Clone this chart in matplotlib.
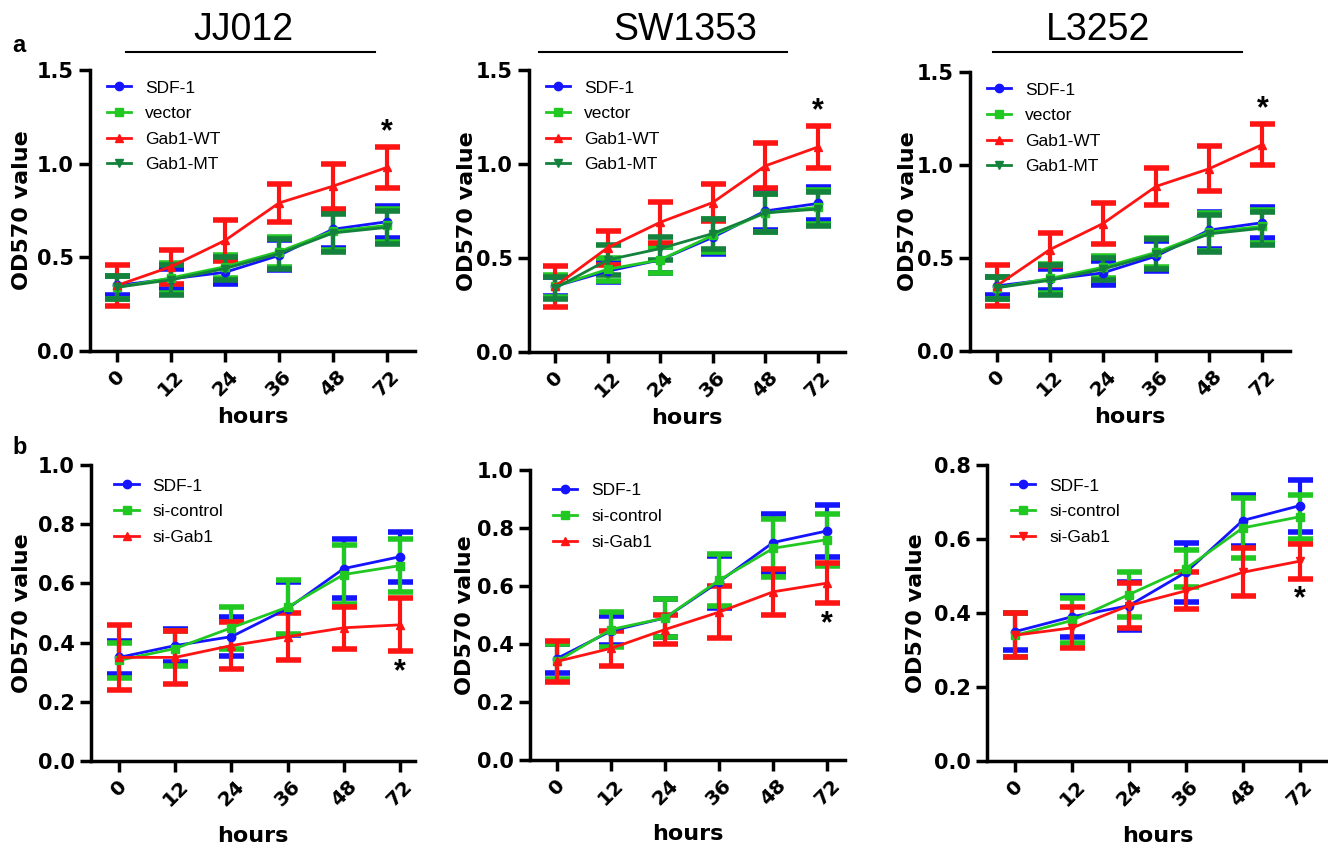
import matplotlib
matplotlib.use("Agg")
import matplotlib.pyplot as plt
from matplotlib.lines import Line2D

plt.rcParams['font.family'] = ['Liberation Sans', 'DejaVu Sans']

hours = ["0", "12", "24", "36", "48", "72"]

# ---- Row a ----
a_labels = ["SDF-1", "vector", "Gab1-WT", "Gab1-MT"]

jj_sdf = [0.35, 0.385, 0.42, 0.51, 0.65, 0.69]
jj_sdf_err = [0.05, 0.055, 0.065, 0.08, 0.10, 0.085]
jj_vec = [0.34, 0.39, 0.45, 0.53, 0.64, 0.67]
jj_vec_err = [0.06, 0.08, 0.06, 0.08, 0.10, 0.09]
jj_wt = [0.35, 0.45, 0.59, 0.79, 0.88, 0.98]
jj_wt_err = [0.11, 0.09, 0.11, 0.10, 0.12, 0.11]
jj_mt = [0.34, 0.38, 0.44, 0.52, 0.63, 0.66]
jj_mt_err = [0.06, 0.08, 0.06, 0.08, 0.10, 0.09]

sw_sdf = [0.35, 0.43, 0.49, 0.61, 0.75, 0.79]
sw_sdf_err = [0.05, 0.06, 0.07, 0.09, 0.10, 0.09]
sw_vec = [0.35, 0.44, 0.49, 0.62, 0.74, 0.77]
sw_vec_err = [0.06, 0.06, 0.07, 0.09, 0.10, 0.09]
sw_wt = [0.35, 0.555, 0.69, 0.795, 0.99, 1.09]
sw_wt_err = [0.11, 0.09, 0.11, 0.10, 0.12, 0.11]
sw_mt = [0.34, 0.49, 0.55, 0.63, 0.74, 0.76]
sw_mt_err = [0.06, 0.08, 0.06, 0.08, 0.10, 0.09]

l3_sdf = [0.35, 0.385, 0.42, 0.51, 0.65, 0.69]
l3_sdf_err = [0.05, 0.055, 0.065, 0.08, 0.10, 0.085]
l3_vec = [0.34, 0.39, 0.45, 0.53, 0.64, 0.67]
l3_vec_err = [0.06, 0.08, 0.06, 0.08, 0.10, 0.09]
l3_wt = [0.35, 0.545, 0.685, 0.885, 0.98, 1.11]
l3_wt_err = [0.11, 0.09, 0.11, 0.10, 0.12, 0.11]
l3_mt = [0.34, 0.38, 0.44, 0.52, 0.63, 0.66]
l3_mt_err = [0.06, 0.08, 0.06, 0.08, 0.10, 0.09]

# ---- Row b ----
b_labels = ["SDF-1", "si-control", "si-Gab1"]

jjb_sdf = [0.35, 0.39, 0.42, 0.515, 0.65, 0.69]
jjb_sdf_err = [0.055, 0.055, 0.065, 0.09, 0.10, 0.085]
jjb_ctl = [0.34, 0.38, 0.45, 0.52, 0.63, 0.66]
jjb_ctl_err = [0.06, 0.06, 0.07, 0.09, 0.10, 0.09]
jjb_si = [0.35, 0.35, 0.39, 0.42, 0.45, 0.46]
jjb_si_err = [0.11, 0.09, 0.08, 0.08, 0.07, 0.09]

swb_sdf = [0.35, 0.445, 0.49, 0.615, 0.75, 0.79]
swb_sdf_err = [0.05, 0.05, 0.065, 0.09, 0.10, 0.09]
swb_ctl = [0.34, 0.45, 0.49, 0.62, 0.73, 0.76]
swb_ctl_err = [0.06, 0.06, 0.065, 0.09, 0.10, 0.09]
swb_si = [0.34, 0.385, 0.45, 0.51, 0.58, 0.61]
swb_si_err = [0.07, 0.06, 0.05, 0.09, 0.08, 0.07]

l3b_sdf = [0.35, 0.39, 0.42, 0.51, 0.65, 0.69]
l3b_sdf_err = [0.05, 0.055, 0.065, 0.08, 0.07, 0.07]
l3b_ctl = [0.34, 0.38, 0.45, 0.52, 0.63, 0.66]
l3b_ctl_err = [0.06, 0.06, 0.06, 0.05, 0.08, 0.06]
l3b_si = [0.34, 0.36, 0.42, 0.46, 0.51, 0.54]
l3b_si_err = [0.06, 0.055, 0.06, 0.05, 0.065, 0.047]

titles = ["JJ012", "SW1353", "L3252"]

BLUE = '#1414ff'
GREEN = '#22c822'
RED = '#ff1414'
DGREEN = '#14823c'

BOLD_FONT = ['DejaVu Sans']

W, H = 1328, 849
fig = plt.figure(figsize=(W / 100, H / 100), dpi=100)


def px_axes(left, right, top, bottom):
    return fig.add_axes([left / W, 1 - bottom / H, (right - left) / W, (bottom - top) / H])


def style(ax, ymax, ystep, xlim):
    for s in ['top', 'right']:
        ax.spines[s].set_visible(False)
    for s in ['left', 'bottom']:
        ax.spines[s].set_linewidth(2.5)
    ax.set_ylim(0, ymax)
    ax.set_xlim(*xlim)
    n = int(round(ymax / ystep))
    ticks = [i * ystep for i in range(n + 1)]
    ax.set_yticks(ticks)
    ax.set_yticklabels([f"{t:.1f}" for t in ticks], fontsize=15, fontweight='bold',
                       family=BOLD_FONT)
    ax.set_xticks(range(len(hours)))
    ax.set_xticklabels(hours, fontsize=14.5, fontweight='bold', rotation=45, ha='center',
                       va='top', family=BOLD_FONT)
    ax.tick_params(axis='both', width=2.5, length=8, direction='out')
    ax.set_ylabel("OD570 value", fontsize=16, fontweight='bold', family=BOLD_FONT)
    ax.set_xlabel("hours", fontsize=16, fontweight='bold', family=BOLD_FONT)


def series(ax, y, e, color, marker, label):
    x = list(range(len(y)))
    ax.errorbar(x, y, yerr=e, color=color, marker=marker, ms=6, lw=2,
                elinewidth=3, capsize=9, capthick=4, label=label, clip_on=False)


a_data = [
    (jj_sdf, jj_sdf_err, jj_vec, jj_vec_err, jj_wt, jj_wt_err, jj_mt, jj_mt_err),
    (sw_sdf, sw_sdf_err, sw_vec, sw_vec_err, sw_wt, sw_wt_err, sw_mt, sw_mt_err),
    (l3_sdf, l3_sdf_err, l3_vec, l3_vec_err, l3_wt, l3_wt_err, l3_mt, l3_mt_err),
]
a_boxes = [(90, 415, 70, 351), (529, 845, 70, 352), (970, 1290, 72, 351)]
a_xl = [(-0.5, 5.52), (-0.5, 5.52), (-0.5, 5.52)]
a_ylab = [-0.178, -0.165, -0.162]
title_lines = [(126, 375, 243), (539, 787, 685), (993, 1242, 1098)]

for i in range(3):
    ax = px_axes(*a_boxes[i])
    s, se, v, ve, w, we, m, me = a_data[i]
    series(ax, s, se, BLUE, 'o', a_labels[0])
    series(ax, v, ve, GREEN, 's', a_labels[1])
    series(ax, w, we, RED, '^', a_labels[2])
    series(ax, m, me, DGREEN, 'v', a_labels[3])
    style(ax, 1.5, 0.5, a_xl[i])
    ax.yaxis.set_label_coords(a_ylab[i], 0.5)
    ax.xaxis.set_label_coords(0.5, -0.2)
    ax.text(5, w[5] + we[5] + 0.0, "*", ha='center', va='bottom', fontsize=22, fontweight='bold')
    handles = [Line2D([], [], color=c, marker=mk, ms=6, lw=2)
               for c, mk in [(BLUE, 'o'), (GREEN, 's'), (RED, '^'), (DGREEN, 'v')]]
    ax.legend(handles, a_labels, loc='upper left', bbox_to_anchor=(0.02, 1.0), frameon=False,
              fontsize=12.5, handlelength=1.4, handletextpad=0.8, labelspacing=0.6,
              borderaxespad=0.2)
    l, r, cx = title_lines[i]
    fig.add_artist(Line2D([l / W, r / W], [1 - 52 / H, 1 - 52 / H], color='black', lw=1.5))
    fig.text(cx / W, 1 - 30 / H, titles[i], ha='center', va='center', fontsize=27)

b_data = [
    (jjb_sdf, jjb_sdf_err, jjb_ctl, jjb_ctl_err, jjb_si, jjb_si_err),
    (swb_sdf, swb_sdf_err, swb_ctl, swb_ctl_err, swb_si, swb_si_err),
    (l3b_sdf, l3b_sdf_err, l3b_ctl, l3b_ctl_err, l3b_si, l3b_si_err),
]
b_boxes = [(91, 415, 465, 761), (530, 845, 470, 760), (987, 1328, 465, 761)]
b_xl = [(-0.5, 5.27), (-0.5, 5.33), (-0.5, 5.5)]
b_ymax = [1.0, 1.0, 0.8]
b_ylab = [-0.182, -0.175, -0.18]
b_si_marker = ['^', '^', 'v']

for i in range(3):
    ax = px_axes(*b_boxes[i])
    s, se, c, ce, g, ge = b_data[i]
    series(ax, s, se, BLUE, 'o', b_labels[0])
    series(ax, c, ce, GREEN, 's', b_labels[1])
    series(ax, g, ge, RED, b_si_marker[i], b_labels[2])
    style(ax, b_ymax[i], 0.2, b_xl[i])
    ax.yaxis.set_label_coords(b_ylab[i], 0.5)
    ax.xaxis.set_label_coords(0.5, -0.22)
    ax.text(5, g[5] - ge[5] - 0.02 * b_ymax[i], "*", ha='center', va='top',
            fontsize=22, fontweight='bold')
    handles = [Line2D([], [], color=cc, marker=mk, ms=6, lw=2)
               for cc, mk in [(BLUE, 'o'), (GREEN, 's'), (RED, b_si_marker[i])]]
    ax.legend(handles, b_labels, loc='upper left', bbox_to_anchor=(0.04, 0.99), frameon=False,
              fontsize=12.5, handlelength=1.4, handletextpad=0.8, labelspacing=0.6,
              borderaxespad=0.2)

fig.text(12 / W, 1 - 45 / H, "a", fontsize=17, fontweight='bold', va='center')
fig.text(12 / W, 1 - 448 / H, "b", fontsize=17, fontweight='bold', va='center')

fig.savefig("out.png", dpi=100)
